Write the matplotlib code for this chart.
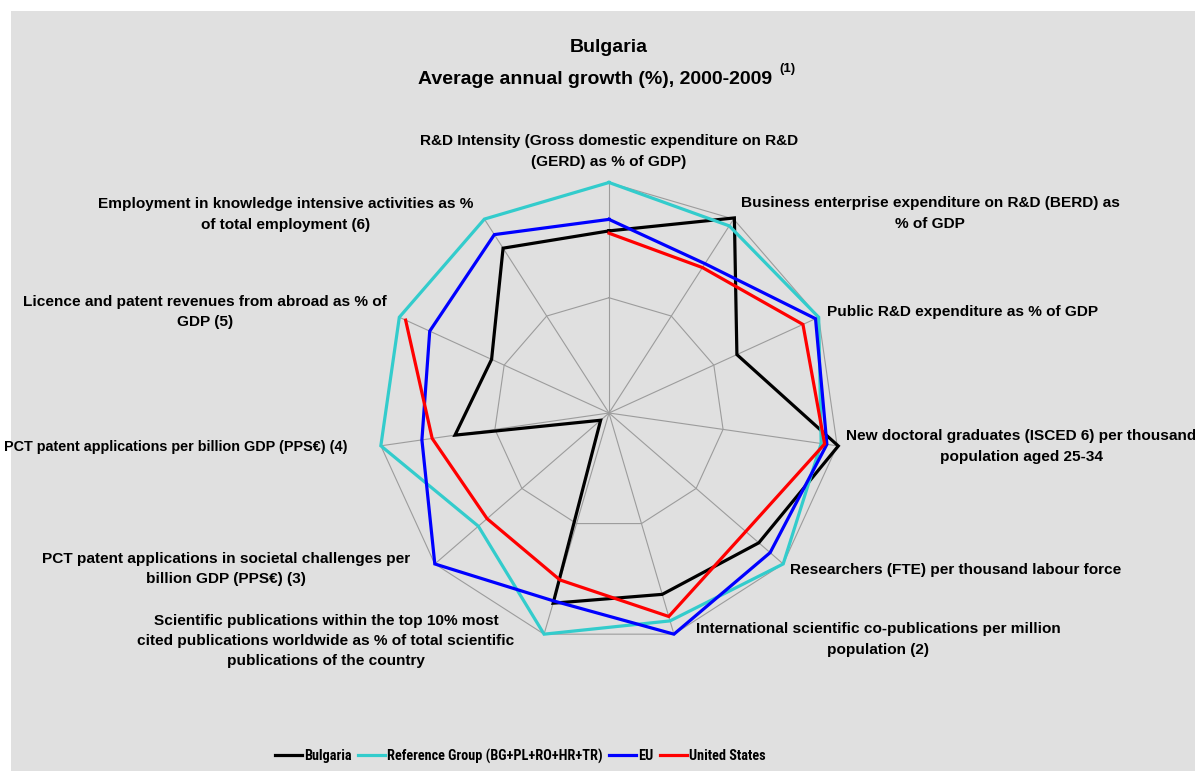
import numpy as np
import matplotlib
matplotlib.use("Agg")
import matplotlib.pyplot as plt
from matplotlib.patches import Rectangle
from matplotlib.lines import Line2D
from matplotlib import font_manager

# ---------------- data (scaled growth index, outer ring = 1) ----------------
categories = [
    "R&D Intensity (Gross domestic expenditure on R&D\n(GERD) as % of GDP)",
    "Business enterprise expenditure on R&D (BERD) as\n% of GDP",
    "Public R&D expenditure as % of GDP",
    "New doctoral graduates (ISCED 6) per thousand\npopulation aged 25-34",
    "Researchers (FTE) per thousand labour force",
    "International scientific co-publications per million\npopulation (2)",
    "Scientific publications within the top 10% most\ncited publications worldwide as % of total scientific\npublications of the country",
    "PCT patent applications in societal challenges per\nbillion GDP (PPS€) (3)",
    "PCT patent applications per billion GDP (PPS€) (4)",
    "Licence and patent revenues from abroad as % of\nGDP (5)",
    "Employment in knowledge intensive activities as %\nof total employment (6)",
]
bulgaria = [0.79, 1.006, 0.61, 1.005, 0.86, 0.82, 0.86, 0.048, 0.675, 0.56, 0.85]
ref_group = [1.0, 0.965, 1.0, 0.93, 1.0, 0.94, 1.0, 0.75, 1.0, 1.0, 1.0]
eu = [0.84, 0.77, 0.985, 0.955, 0.925, 1.0, 0.85, 1.0, 0.82, 0.855, 0.92]
united_states = [0.78, 0.75, 0.925, 0.945, 0.785, 0.92, 0.755, 0.70, 0.775, 0.97, np.nan]
series_names = ["Bulgaria", "Reference Group (BG+PL+RO+HR+TR)", "EU", "United States"]
series_values = [bulgaria, ref_group, eu, united_states]
series_colors = ["#000000", "#33CCCC", "#0000FF", "#FF0000"]
grid_levels = [0.5, 1.0]
title_line1 = "Bulgaria"
title_line2 = "Average annual growth (%), 2000-2009"
title_sup = "(1)"

# ---------------- layout ----------------
W, H = 1195, 771
DPI = 100
BG = "#E0E0E0"
GRID = "#9C9C9C"
cx, cy, R = 609, 413, 230.5

def fx(x):
    return x / W

def fy(y):
    return 1 - y / H

# label anchor positions (px), horizontal alignment, font size
label_pos = [
    (609, 151.5, "center", 11.1),
    (930, 213.5, "center", 11.1),
    (827, 312, "left", 11.1),
    (1021, 446.5, "center", 11.1),
    (790, 570, "left", 11.1),
    (878, 639.5, "center", 11.1),
    (326, 640.7, "center", 11.1),
    (226, 569, "center", 11.1),
    (347, 447, "right", 10.4),
    (205, 312, "center", 11.1),
    (286, 214.5, "center", 11.1),
]

fam = ["Liberation Sans", "DejaVu Sans"]
names = {f.name for f in font_manager.fontManager.ttflist}
narrow = None
for cand in ["Liberation Sans Narrow", "Arial Narrow", "DejaVu Sans Condensed",
             "Roboto Condensed", "Open Sans Condensed"]:
    if cand in names:
        narrow = cand
        break
if narrow:
    legend_fam, legend_size = [narrow, "DejaVu Sans"], 10.3
else:
    legend_fam, legend_size = fam, 8.8

fig = plt.figure(figsize=(W / DPI, H / DPI), dpi=DPI, facecolor="white")
fig.patches.append(Rectangle((fx(11), 0), 1 - fx(11), fy(11), transform=fig.transFigure,
                             facecolor=BG, edgecolor="none", zorder=-10))

ax = fig.add_axes([fx(cx - R), fy(cy + R), 2 * R / W, 2 * R / H], projection="polar")
ax.set_zorder(2)
ax.set_facecolor("none")
ax.set_theta_zero_location("N")
ax.set_theta_direction(-1)
ax.set_ylim(0, 1.0)
ax.set_xticks([])
ax.set_yticks([])
ax.grid(False)
ax.spines["polar"].set_visible(False)

n = len(categories)
theta = np.linspace(0, 2 * np.pi, n, endpoint=False)
theta_c = np.append(theta, theta[0])

for lvl in grid_levels:
    ax.plot(theta_c, [lvl] * (n + 1), color=GRID, lw=0.8, zorder=1, clip_on=False)
for t in theta:
    ax.plot([t, t], [0, 1.0], color=GRID, lw=0.8, zorder=1, clip_on=False)

for name, vals, col in zip(series_names, series_values, series_colors):
    v = np.append(vals, vals[0])
    ax.plot(theta_c, v, color=col, lw=2.3, zorder=3, clip_on=False,
            solid_joinstyle="miter", label=name)

for text, (x, y, ha, fs) in zip(categories, label_pos):
    fig.text(fx(x), fy(y), text, ha=ha, va="center", multialignment="center",
             fontsize=fs, fontweight="bold", family=fam, color="#000000",
             linespacing=1.55, zorder=3)

fig.text(fx(609), fy(48), title_line1, ha="center", va="center", fontsize=14,
         fontweight="bold", family=fam)
fig.text(fx(595), fy(79), title_line2, ha="center", va="center", fontsize=14,
         fontweight="bold", family=fam)
fig.text(fx(779), fy(69), title_sup, ha="left", va="center", fontsize=9.5,
         fontweight="bold", family=fam)

handles = [Line2D([0], [0], color=c, lw=2.3) for c in series_colors]
fig.legend(handles, series_names, loc="center left", bbox_to_anchor=(fx(275), fy(756)),
           ncol=4, frameon=False, borderpad=0, borderaxespad=0,
           handlelength=27 / (legend_size * DPI / 72), handletextpad=0.15,
           columnspacing=0.45,
           prop={"family": legend_fam, "weight": "bold", "size": legend_size})

fig.savefig("out.png", dpi=DPI, facecolor="white")
